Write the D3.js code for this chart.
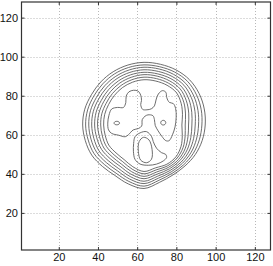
<!DOCTYPE html>
<html><head><meta charset="utf-8">
<script src="https://cdn.jsdelivr.net/npm/d3@7"></script>
<style>body{margin:0;background:#fff}svg{display:block}</style>
</head><body><svg id="c" width="273" height="266"></svg>
<script>
// ---- data (data units) ----
const xDomain = [1, 128];
const yDomain = [1, 128];
const xTicks = [20, 40, 60, 80, 100, 120];
const yTicks = [20, 40, 60, 80, 100, 120];

// outer rings (levels 1..8) given as radius per angle around a centre
const ringCenter = [63.5, 65];
const ringAngles = [0,15,30,45,60,75,90,105,120,135,150,165,180,195,210,225,240,255,270,285,300,315,330,345];
const ring1 = [31.2,31.8,32.4,32.8,32.6,32.2,32.1,31.8,31.5,31.2,31.0,31.3,31.3,31.0,30.8,30.0,29.8,31.2,32.5,30.4,29.5,29.6,30.2,30.7];
const ring2 = [29.5,30.2,30.9,31.5,31.3,30.9,30.8,30.5,30.2,29.8,29.6,29.8,29.8,29.5,29.4,28.6,28.5,29.9,31.3,29.3,28.6,28.7,29.0,29.2];
const ring3 = [27.8,28.5,29.4,30.1,30.0,29.7,29.6,29.2,28.8,28.4,28.1,28.3,28.2,28.0,27.9,27.2,27.1,28.6,30.0,28.2,27.7,27.7,27.8,27.7];
const ring4 = [26.1,26.9,27.9,28.8,28.7,28.4,28.3,27.9,27.5,27.0,26.7,26.8,26.7,26.5,26.5,25.8,25.8,27.3,28.8,27.1,26.8,26.8,26.6,26.2];
const ring5 = [24.4,25.2,26.4,27.4,27.4,27.1,27.0,26.6,26.1,25.6,25.2,25.3,25.2,25.0,25.0,24.4,24.4,26.0,27.5,26.0,25.9,25.8,25.4,24.7];
const ring6 = [22.7,23.6,24.9,26.1,26.1,25.9,25.8,25.3,24.8,24.2,23.8,23.8,23.7,23.5,23.6,23.0,23.1,24.7,26.3,24.9,25.0,24.9,24.2,23.2];
const ring7 = [21.0,21.9,23.4,24.7,24.8,24.6,24.5,24.0,23.4,22.8,22.3,22.3,22.1,22.0,22.1,21.6,21.7,23.4,25.0,23.8,24.1,23.9,23.0,21.7];
const ring8 = [19.3,20.3,21.9,23.4,23.5,23.3,23.2,22.7,22.1,21.4,20.9,20.8,20.6,20.5,20.7,20.2,20.4,22.1,23.8,22.7,23.2,23.0,21.8,20.2];

// inner contours as [x, y] points in data units
const innerMain = [[45.4,62.5],[45.0,66.0],[45.6,70.0],[47.0,73.2],[50.0,74.0],[53.0,74.0],[54.2,76.5],[54.4,79.8],[55.8,82.0],[58.2,82.8],[60.4,82.4],[61.8,80.3],[62.2,77.5],[61.8,75.5],[62.8,73.0],[65.0,72.8],[67.2,73.3],[68.8,74.8],[69.6,77.8],[70.8,80.9],[72.9,82.6],[74.6,81.8],[75.1,79.0],[76.4,76.6],[78.4,76.0],[79.6,73.5],[79.9,69.0],[79.3,64.0],[78.0,60.0],[76.3,57.0],[74.6,57.0],[72.6,59.2],[70.7,62.0],[69.2,64.8],[68.8,67.8],[68.0,69.8],[65.5,70.2],[64.0,69.5],[62.6,67.8],[62.3,64.5],[60.6,63.2],[58.0,62.5],[55.5,60.0],[53.9,59.0],[50.5,59.8],[47.0,60.7]];
const ovalOuter = [[58.9,59.0],[61.5,61.0],[64.8,61.6],[67.4,59.0],[68.2,56.5],[69.9,53.1],[72.5,50.8],[74.5,50.0],[75.0,48.4],[73.3,46.6],[69.9,45.0],[65.7,44.4],[61.5,45.0],[58.9,47.4],[58.1,51.3],[58.2,55.6]];
const ovalInner = [[63.2,58.7],[66.0,57.4],[67.6,52.5],[67.3,47.5],[64.8,45.7],[61.8,47.0],[60.6,51.5],[61.0,56.5]];
const spotLeft = [[51.0,66.0],[50.6,66.65],[49.6,66.9],[48.6,66.65],[48.2,66.0],[48.6,65.35],[49.6,65.1],[50.6,65.35]];
const spotRight = [[74.6,66.2],[74.2,67.05],[73.3,67.4],[72.4,67.05],[72.0,66.2],[72.4,65.35],[73.3,65.0],[74.2,65.35]];

// ---- drawing ----
const svg = d3.select("#c");
const L = 21.5, R = 270.5, T = 2, B = 250;
const x = d3.scaleLinear().domain(xDomain).range([L, R]);
const y = d3.scaleLinear().domain(yDomain).range([B, T]);

// grid
const g = svg.append("g");
g.selectAll(".gx").data(xTicks).join("line")
  .attr("x1", d => Math.round(x(d)) + 0.5).attr("x2", d => Math.round(x(d)) + 0.5)
  .attr("y1", T).attr("y2", B)
  .attr("stroke", "#b8b8b8").attr("stroke-width", 1).attr("stroke-dasharray", "1,2");
g.selectAll(".gy").data(yTicks).join("line")
  .attr("y1", d => Math.round(y(d)) + 0.5).attr("y2", d => Math.round(y(d)) + 0.5)
  .attr("x1", L).attr("x2", R)
  .attr("stroke", "#b8b8b8").attr("stroke-width", 1).attr("stroke-dasharray", "1,2");

// contours
const rings = [ring1, ring2, ring3, ring4, ring5, ring6, ring7, ring8].map(radii =>
  radii.map((r, i) => {
    const a = ringAngles[i] * Math.PI / 180;
    return [ringCenter[0] + r * Math.cos(a), ringCenter[1] + r * Math.sin(a)];
  }));
const paths = rings.concat([innerMain, ovalOuter, ovalInner, spotLeft, spotRight]);
const line = d3.line().x(d => x(d[0])).y(d => y(d[1])).curve(d3.curveCatmullRomClosed.alpha(0.5));
svg.append("g").selectAll("path").data(paths).join("path")
  .attr("d", line).attr("fill", "none").attr("stroke", "#5c5c5c").attr("stroke-width", 0.9);

// axes box with inward ticks
const xAxB = d3.axisBottom(x).tickValues(xTicks).tickSize(-3).tickFormat(d3.format("d")).tickPadding(3.5);
const yAxL = d3.axisLeft(y).tickValues(yTicks).tickSize(-3).tickFormat(d3.format("d")).tickPadding(3.5);
const xAxT = d3.axisTop(x).tickValues(xTicks).tickSize(-3).tickFormat("");
const yAxR = d3.axisRight(y).tickValues(yTicks).tickSize(-3).tickFormat("");
function style(sel){
  sel.select(".domain").remove();
  sel.selectAll("line").attr("stroke", "#333");
  sel.selectAll("text").attr("fill", "#111").style("font-family", "'Liberation Sans', Arial, sans-serif").style("font-size", "11px");
}
svg.append("g").attr("transform", `translate(0,${B})`).call(xAxB).call(style);
svg.append("g").attr("transform", `translate(${L},0)`).call(yAxL).call(style);
svg.append("g").attr("transform", `translate(0,${T})`).call(xAxT).call(style);
svg.append("g").attr("transform", `translate(${R},0)`).call(yAxR).call(style);
svg.append("rect").attr("x", L).attr("y", T).attr("width", R - L).attr("height", B - T)
  .attr("fill", "none").attr("stroke", "#333").attr("stroke-width", 1.2);
</script></body></html>
